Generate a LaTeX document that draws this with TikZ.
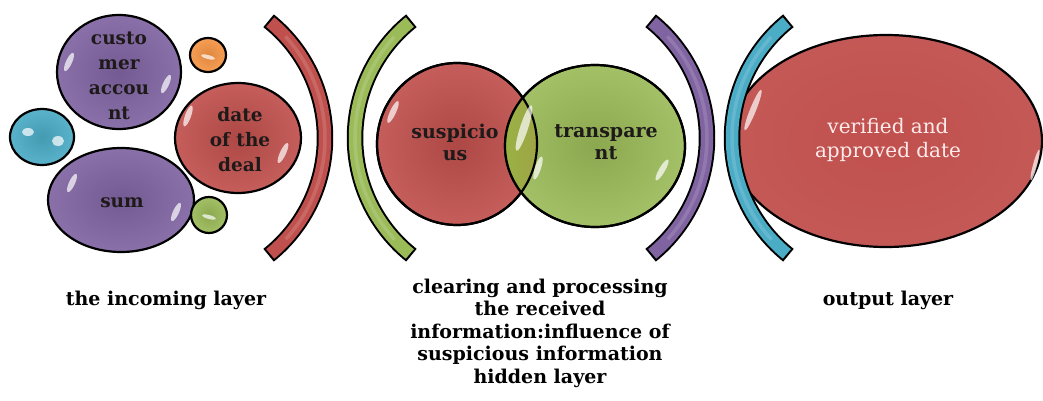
\documentclass[tikz,border=0pt]{standalone}
\usepackage{fontspec}
\setmainfont{DejaVu Serif}
\usetikzlibrary{shapes.geometric}
\definecolor{cpurple}{HTML}{8064A2}
\definecolor{cred}{HTML}{C0504D}
\definecolor{cgreen}{HTML}{9BBB59}
\definecolor{caqua}{HTML}{4BACC6}
\definecolor{corange}{HTML}{F79646}
\definecolor{ink}{HTML}{1E1A1A}
\tikzset{
  bubble/.style={ellipse, draw=black, line width=2.2, inner sep=0pt,
    inner color=#1!90!black, outer color=#1!92!white},
  lbl/.style={align=center, text=ink, inner sep=0pt,
    font=\fontsize{18.5}{25}\selectfont\bfseries},
  lblb/.style={align=center, text=ink, inner sep=0pt,
    font=\fontsize{19}{22}\selectfont\bfseries},
  lblw/.style={align=center, text=white!92!red, inner sep=0pt,
    font=\fontsize{20}{24}\selectfont},
  caption/.style={align=center, text=black, inner sep=0pt,
    font=\fontsize{19}{22.5}\selectfont\bfseries},
  glint/.style={fill=white, opacity=0.7},
  bandout/.style={draw=black, line width=16.5},
  bandin/.style={draw=#1, line width=12.5},
  bandhi/.style={draw=#1!60!white, line width=3.5, opacity=0.35}
}
\newcommand\myglint[5]{\fill[glint, rotate around={#5:(#1,#2)}] (#1,#2) ellipse [x radius=#3, y radius=#4];}
\newcommand\myband[4]{% cx cy start-angle colour
  \draw[bandout] ([shift={(#3-0.8:150)}]#1,#2) arc [start angle=#3-0.8, delta angle=102.8, radius=150];
  \draw[bandin=#4] ([shift={(#3:150)}]#1,#2) arc [start angle=#3, delta angle=101.2, radius=150];
  \draw[bandhi=#4] ([shift={(#3+8:150)}]#1,#2) arc [start angle=#3+8, delta angle=85, radius=150];}
\begin{document}
\begin{tikzpicture}[x=1pt,y=-1pt]
\useasboundingbox[fill=white] (0,0) rectangle (1043,401);

% ---- incoming layer bubbles
\node[bubble=cpurple, minimum width=124, minimum height=114] (cust) at (119,72) {};
\node[bubble=corange, minimum width=36, minimum height=34] (orng) at (208,55) {};
\node[bubble=caqua, minimum width=64, minimum height=56] (aqua) at (42,137) {};
\node[bubble=cred, minimum width=126, minimum height=110] (date) at (238,138) {};
\node[bubble=cpurple, minimum width=146, minimum height=104] (sum) at (121,200) {};
\node[bubble=cgreen, minimum width=36, minimum height=36] (grn) at (209,215) {};

\myglint{69}{62}{3}{10}{-25}
\myglint{166}{84}{3}{10}{-25}
\myglint{28}{132}{6}{4}{0}
\myglint{58}{141}{6}{5}{0}
\myglint{208}{57}{7}{2}{-15}
\myglint{188}{116}{3}{11}{-20}
\myglint{283}{153}{3}{11}{-25}
\myglint{72}{183}{3}{10}{-25}
\myglint{176}{212}{3}{10}{-25}
\myglint{209}{217}{7}{2}{-15}

\node[lbl] (custT) at (119,76) {custo\\mer\\accou\\nt};
\node[lbl] (dateT) at (240,140) {date\\of the\\deal};
\node[lbl] (sumT) at (122,203) {sum};

% ---- output layer ellipse (under the aqua arc)
\node[bubble=cred, minimum width=312, minimum height=212, inner color=cred, outer color=cred!95!white] (out) at (886,141) {};
\myglint{753}{110}{3}{22}{-22}
\myglint{1035}{165}{2}{16}{-15}
\node[lblw] (outT) at (888,140) {verified and\\approved date};

% ---- arcs
\myband{175}{138}{-50.6}{cred}
\myband{505}{138}{129.4}{cgreen}
\myband{557}{138}{-50.6}{cpurple}
\myband{882}{138}{129.4}{caqua}

% ---- hidden layer
\node[bubble=cred, minimum width=160, minimum height=162] (susp) at (457,144) {};
\node[bubble=cgreen, minimum width=180, minimum height=162] (trans) at (595,146) {};
\begin{scope}
  \clip (457,144) ellipse [x radius=80, y radius=81];
  \fill[left color=cgreen!85!yellow!90!black, right color=cred!80!cgreen] (595,146) ellipse [x radius=90, y radius=81];
\end{scope}
\draw[line width=2.2] (457,144) ellipse [x radius=80, y radius=81];
\draw[line width=2.2] (595,146) ellipse [x radius=90, y radius=81];
\myglint{393}{112}{3}{12}{-25}
\myglint{524}{128}{4}{24}{-18}
\myglint{538}{168}{3}{12}{-18}
\myglint{662}{170}{3}{12}{-30}
\node[lblb] (suspT) at (455,142) {suspicio\\us};
\node[lblb] (transT) at (606,142) {transpare\\nt};

% ---- captions
\node[caption] (cap1) at (166,300) {the incoming layer};
\node[caption] (cap2) at (540,333) {clearing and processing\\the received\\information:influence of\\suspicious information\\hidden layer};
\node[caption] (cap3) at (888,300) {output layer};
\end{tikzpicture}
\end{document}
